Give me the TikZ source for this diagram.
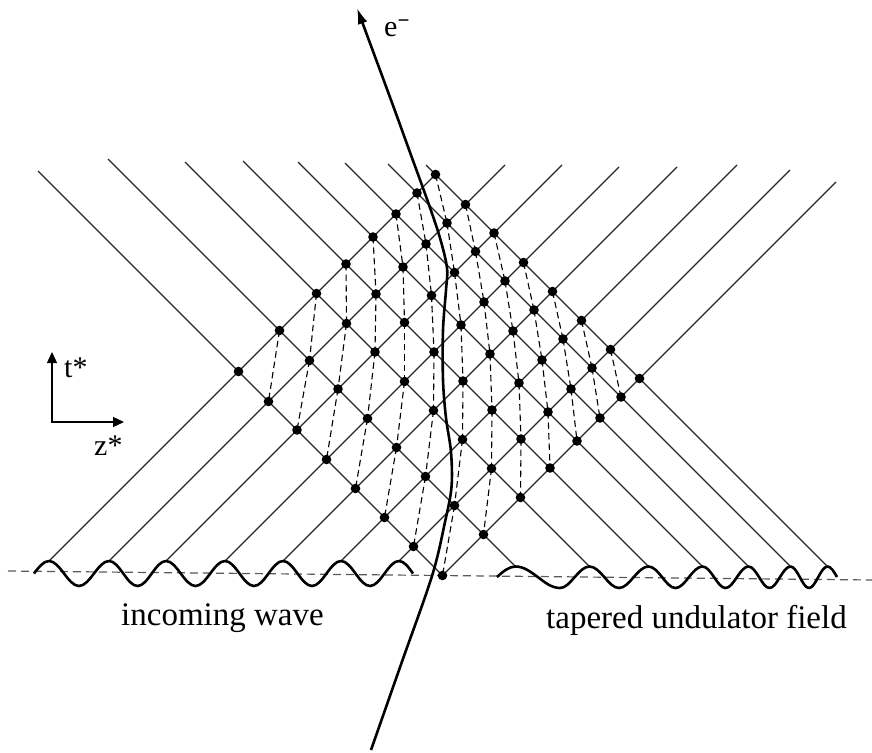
\documentclass[tikz,border=0pt]{standalone}
\usepackage{fontspec}
\setmainfont{Liberation Serif}
\usepackage{tikz}
\usetikzlibrary{arrows.meta}

\begin{document}
\begin{tikzpicture}[
    x=1pt, y=-1pt,
    ray/.style={line width=1.1pt, black!85},
    guide/.style={line width=1.1pt, dash pattern=on 6.5pt off 4pt},
    wave/.style={line width=2.6pt, line join=round},
    base/.style={line width=1.2pt, black!65, dash pattern=on 8pt off 5pt},
    elec/.style={line width=2.6pt, -{Latex[length=16pt,width=10pt]}},
    frame/.style={line width=1.3pt, {Triangle[length=11pt,width=10pt]}-{Triangle[length=11pt,width=10pt]}},
    lbl/.style={inner sep=0pt, anchor=base west, font=\fontsize{33}{36}\selectfont},
    sym/.style={inner sep=0pt, anchor=base west, font=\fontsize{30}{32}\selectfont}
]
\useasboundingbox (0,0) rectangle (872,752);

% crossing points, c = x+y (right-going), d = x-y (left-going)
\foreach \c [count=\i from 0] in {610,670,727,786,844,902,960,1018}
  \foreach \d [count=\j from 0] in {-133,-51,23,82,136,182,224,261}
    \coordinate (p\i-\j) at ({(\c+\d)/2},{(\c-\d)/2});

% crests of the incoming wave and upper ends of right-going rays
\foreach \c [count=\i from 0] in {610,670,727,786,844,902,960}
  \coordinate (w\i) at ({\c-561},561);
\coordinate (w7) at (p7-0);
\coordinate (r0) at (p0-7);
\coordinate (r1) at (505,165);
\coordinate (r2) at (562,165);
\coordinate (r3) at (619,167);
\coordinate (r4) at (677,167);
\coordinate (r5) at (737,165);
\coordinate (r6) at (790,170);
\coordinate (r7) at (836,182);

% crests of the undulator field and upper ends of left-going rays
\coordinate (u0) at (p7-0);
\foreach \d [count=\j from 1] in {-51,23,82,136,182,224,261}
  \coordinate (u\j) at ({\d+566.5},566.5);
\coordinate (l0) at (38,171);
\coordinate (l1) at (108,159);
\coordinate (l2) at (185,162);
\coordinate (l3) at (243,161);
\coordinate (l4) at (298,162);
\coordinate (l5) at (345,163);
\coordinate (l6) at (388,164);
\coordinate (l7) at (426,165);

\foreach \i in {0,...,7} {
  \draw[ray] (w\i) -- (r\i);
  \draw[ray] (u\i) -- (l\i);
}

% dashed links of equal x
\foreach \i in {0,...,6}
  \foreach \j in {1,...,7} {
    \pgfmathtruncatemacro\ii{\i+1}
    \pgfmathtruncatemacro\jj{\j-1}
    \draw[guide] (p\i-\j) -- (p\ii-\jj);
  }

% axis
\coordinate (a0) at (8,571);
\coordinate (a1) at (872,580);
\draw[base] (a0) -- (a1);

% incoming wave
\draw[wave] (34,573.5) sin (49,561) cos (64,573.5) sin (79,586) cos (94,573.5)
  sin (109,561) cos (123.25,573.5) sin (137.5,586) cos (151.75,573.5)
  sin (166,561) cos (180.75,573.5) sin (195.5,586) cos (210.25,573.5)
  sin (225,561) cos (239.5,573.5) sin (254,586) cos (268.5,573.5)
  sin (283,561) cos (297.5,573.5) sin (312,586) cos (326.5,573.5)
  sin (341,561) cos (355.5,573.5) sin (370,586) cos (384.5,573.5)
  sin (399,561) cos (413,573.5);

% tapered undulator field
\draw[wave] (497,577) sin (515.5,566.5) cos (537.75,577) sin (560,588) cos (574.75,577)
  sin (589.5,566.5) cos (604.25,577) sin (619,588) cos (633.75,577)
  sin (648.5,566.5) cos (662,577) sin (675.5,588) cos (689,577)
  sin (702.5,566.5) cos (714,577) sin (725.5,588) cos (737,577)
  sin (748.5,566.5) cos (759,577) sin (769.5,588) cos (780,577)
  sin (790.5,566.5) cos (799.75,577) sin (809,588) cos (818.25,577)
  sin (827.5,566.5) cos (837,577);

% electron
\draw[elec] plot[smooth, tension=0.55] coordinates {
  (371,750) (401.5,663) (432,576) (445,522) (451.5,487) (451,452) (446,418)
  (443,380) (443,330) (446,290) (447,268) (440,238) (428,202) (409.5,151)
  (391,100) (357,8)};

% dots
\foreach \i in {0,...,7}
  \foreach \j in {0,...,7}
    \fill (p\i-\j) circle[radius=4.8pt];

% frame
\coordinate (o) at (52,422);
\coordinate (tup) at (52,352);
\coordinate (zr) at (124,422);
\draw[frame] (tup) -- (o) -- (zr);

\node[sym] (tlab) at (64,377) {t*};
\node[sym] (zlab) at (94,455) {z*};
\node[sym] (elab) at (384,37) {e\textsuperscript{\textbf{−}}};
\node[lbl] (inc) at (121,625) {incoming wave};
\node[lbl] (tap) at (546,628) {tapered undulator field};
\end{tikzpicture}
\end{document}
